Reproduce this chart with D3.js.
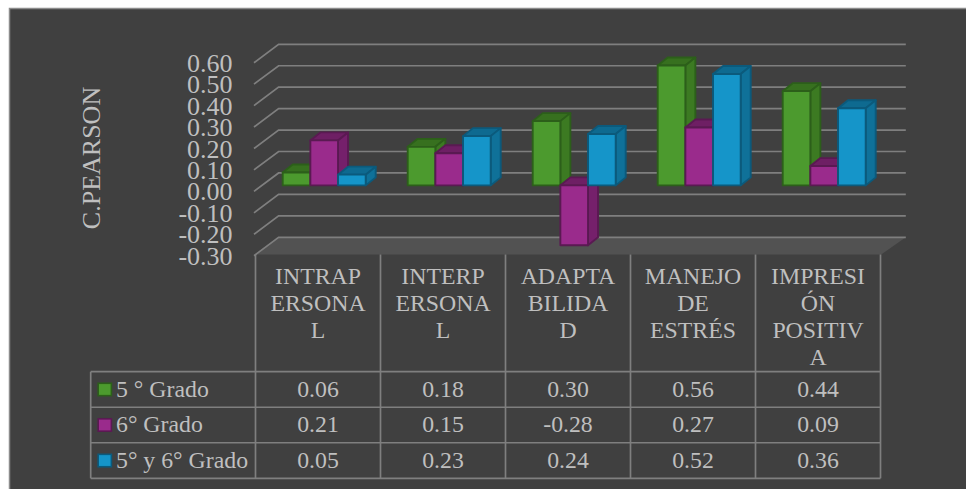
<!DOCTYPE html>
<html><head><meta charset="utf-8">
<script src="https://cdn.jsdelivr.net/npm/d3@7"></script>
<style>
html,body{margin:0;padding:0;background:#fff;overflow:hidden}
svg{display:block}
text{font-family:"Liberation Serif","Times New Roman",serif;fill:#bfbfbf}
</style></head><body>
<div id="chart"></div>
<script>
const categories = [["INTRAP","ERSONA","L"],["INTERP","ERSONA","L"],["ADAPTA","BILIDA","D"],["MANEJO","DE","ESTRÉS"],["IMPRESI","ÓN","POSITIV","A"]];
const seriesNames = ["5 ° Grado","6° Grado","5° y 6° Grado"];
const grado5 = [0.06,0.18,0.30,0.56,0.44];
const grado6 = [0.21,0.15,-0.28,0.27,0.09];
const grado56 = [0.05,0.23,0.24,0.52,0.36];
const seriesValues = [grado5,grado6,grado56];
const yTicks = [0.6,0.5,0.4,0.3,0.2,0.1,0,-0.1,-0.2,-0.3];
const faces = [
  {front:"#4c9a2e",side:"#3c7a22",top:"#37701f",edge:"#2c5f1a"},
  {front:"#9a2b8c",side:"#75206b",top:"#6e1f64",edge:"#5a1a52"},
  {front:"#1595c9",side:"#0f7199",top:"#0e6a90",edge:"#0b5a7c"}
];
const W=966,H=489,GRID="#7f7f7f",BG="#404040";
const svg=d3.select("#chart").append("svg").attr("width",W).attr("height",H);
svg.append("rect").attr("x",9.5).attr("y",8.5).attr("width",W).attr("height",H)
  .attr("fill",BG).attr("stroke","#8c8c8c").attr("stroke-width",1.5);

// scales
const yFront=d3.scaleLinear().domain([-0.3,0.6]).range([255.7,62.7]);
const wall={dx:24.6,dy:-18.4};
const yBar=d3.scaleLinear().domain([-0.3,0.6]).range([249.6,56.9]);
const xCat=d3.scaleBand().domain(d3.range(5)).range([255.5,880.5]);
const xSer=d3.scaleBand().domain(d3.range(3)).range([27.2,110.2]);
const depth={dx:10,dy:-8};
const left=254,right=881.2;

// floor
const floorY=254.5;
svg.append("path").attr("fill","#525252")
  .attr("d",d3.line()([[left+wall.dx,yFront(-0.3)+wall.dy],[right+wall.dx,yFront(-0.3)+wall.dy],[right,floorY],[left,floorY]])+"Z");

// grid
const grid=svg.append("g").attr("fill","none").attr("stroke",GRID).attr("stroke-width",1.7);
grid.selectAll("path").data(yTicks).join("path")
  .attr("d",v=>d3.line()([[left,yFront(v)],[left+wall.dx,yFront(v)+wall.dy],[right+wall.dx,yFront(v)+wall.dy]]));

// axis labels
const axis=d3.axisLeft(yFront).tickValues(yTicks).tickFormat(d3.format(".2f")).tickSize(0).tickPadding(0);
const ag=svg.append("g").attr("transform","translate(232.6,0)").call(axis);
ag.select(".domain").remove();
ag.selectAll("text").attr("font-size",26).attr("dy","0.33em")
  .attr("style",'font-family:"Liberation Serif",serif;fill:#bfbfbf');
ag.selectAll("text").text(function(){return this.textContent.replace("−","-");});

svg.append("text").attr("transform","translate(91.4,158) rotate(-90)")
  .attr("text-anchor","middle").attr("dy","0.33em").attr("font-size",26).text("C.PEARSON");

// bars
const bars=svg.append("g").attr("stroke-width",1.9).attr("stroke-linejoin","round");
const barW=xSer.bandwidth();
categories.forEach((c,i)=>{
  seriesValues.forEach((vals,s)=>{
    const f=faces[s],x=xCat(i)+xSer(s),v=vals[i];
    const y0=yBar(Math.max(v,0)),y1=yBar(Math.min(v,0));
    const g=bars.append("g").attr("stroke",f.edge);
    const L=d3.line();
    g.append("path").attr("fill",f.top)
      .attr("d",L([[x,y0],[x+depth.dx,y0+depth.dy],[x+barW+depth.dx,y0+depth.dy],[x+barW,y0]])+"Z");
    g.append("path").attr("fill",f.side)
      .attr("d",L([[x+barW,y0],[x+barW+depth.dx,y0+depth.dy],[x+barW+depth.dx,y1+depth.dy],[x+barW,y1]])+"Z");
    g.append("rect").attr("x",x).attr("y",y0).attr("width",barW).attr("height",y1-y0).attr("fill",f.front);
  });
});

// data table
const rowY=d3.scaleBand().domain(d3.range(3)).range([371.7,478.3]);
const table=svg.append("g").attr("stroke",GRID).attr("stroke-width",1.7).attr("fill","none");
d3.range(6).forEach(i=>{
  const x=i<5?xCat(i):xCat.range()[1];
  table.append("line").attr("x1",x).attr("x2",x).attr("y1",floorY).attr("y2",478.3);
});
d3.range(4).forEach(r=>{
  const y=r<3?rowY(r):478.3;
  table.append("line").attr("x1",90.7).attr("x2",880.5).attr("y1",y).attr("y2",y);
});
table.append("line").attr("x1",90.7).attr("x2",90.7).attr("y1",371.7).attr("y2",478.3);

const FS=23.8;
categories.forEach((lines,i)=>{
  lines.forEach((t,k)=>{
    svg.append("text").attr("x",xCat(i)+xCat.bandwidth()/2).attr("y",283.5+k*27.3)
      .attr("text-anchor","middle").attr("font-size",FS).text(t);
  });
});
seriesNames.forEach((n,s)=>{
  const cy=rowY(s)+rowY.bandwidth()/2;
  svg.append("rect").attr("x",98.2).attr("y",cy-6.2).attr("width",13.2).attr("height",12.4)
    .attr("fill",faces[s].front).attr("stroke",faces[s].edge).attr("stroke-width",1.6);
  svg.append("text").attr("x",116).attr("y",cy+7.4).attr("font-size",FS).text(n);
  seriesValues[s].forEach((v,i)=>{
    svg.append("text").attr("x",xCat(i)+xCat.bandwidth()/2).attr("y",cy+7.4)
      .attr("text-anchor","middle").attr("font-size",FS).text(d3.format(".2f")(v).replace("−","-"));
  });
});
</script></body></html>
